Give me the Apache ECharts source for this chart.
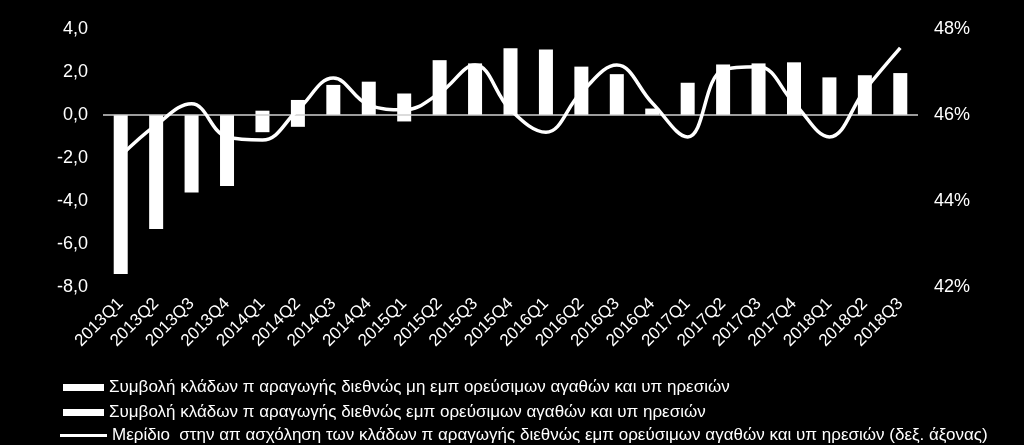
<!DOCTYPE html>
<html>
<head>
<meta charset="utf-8">
<script src="https://cdn.jsdelivr.net/npm/echarts@6/dist/echarts.min.js"></script>
<style>
  html, body { margin: 0; padding: 0; background: #000; }
  #chart { width: 1024px; height: 445px; }
</style>
</head>
<body>
<div id="chart"></div>
<script>
var quarters = ['2013Q1', '2013Q2', '2013Q3', '2013Q4', '2014Q1', '2014Q2', '2014Q3', '2014Q4',
  '2015Q1', '2015Q2', '2015Q3', '2015Q4', '2016Q1', '2016Q2', '2016Q3', '2016Q4',
  '2017Q1', '2017Q2', '2017Q3', '2017Q4', '2018Q1', '2018Q2', '2018Q3'];

// συμβολή μη εμπορεύσιμων (μικρά τμήματα αντίθετου προσήμου)
var nonTradable = [0, 0, 0, 0, 0.2, -0.55, 0, 0, -0.3, 0, 0, 0,
  0, 0, 0, 0, 0, 0, 0, 0, 0, 0, 0];
// συμβολή εμπορεύσιμων
var tradable = [-7.4, -5.3, -3.6, -3.3, -0.8, 0.7, 1.4, 1.55, 1.0, 2.55, 2.4, 3.1,
  3.05, 2.25, 1.9, 0.3, 1.5, 2.35, 2.4, 2.45, 1.75, 1.85, 1.95];
// μερίδιο απασχόλησης (%), δεξιός άξονας
var empShare = [45.05, 45.77, 46.26, 45.49, 45.42, 46.12, 46.86, 46.23, 46.12, 46.51, 47.16, 46.12,
  45.6, 46.53, 47.16, 46.28, 45.49, 47.05, 47.12, 46.28, 45.49, 46.58, 47.56];

var leftTicks = { min: -8, max: 4, interval: 2 };
var rightTicks = { min: 42, max: 48, interval: 2 };

var names = [
  'Συμβολή κλάδων π αραγωγής διεθνώς μη εμπ ορεύσιμων αγαθών και υπ ηρεσιών',
  'Συμβολή κλάδων π αραγωγής διεθνώς εμπ ορεύσιμων αγαθών και υπ ηρεσιών',
  'Μερίδιο  στην απ ασχόληση των κλάδων π αραγωγής διεθνώς εμπ ορεύσιμων αγαθών και υπ ηρεσιών (δεξ. άξονας)'
];

var font = 'Liberation Sans, Arial, sans-serif';
var chart = echarts.init(document.getElementById('chart'));

// ένα υπόμνημα ανά γραμμή
function legendRow(name, top, left, w, h) {
  return {
    left: left,
    top: top,
    itemWidth: w,
    itemHeight: h,
    itemGap: 5,
    icon: 'rect',
    textStyle: { color: '#fff', fontSize: 17, fontFamily: font },
    data: [name]
  };
}

var option = {
  backgroundColor: '#000',
  animation: false,
  textStyle: { fontFamily: font, color: '#fff' },
  grid: { left: 103, right: 106, top: 29, bottom: 158 },
  legend: [
    legendRow(names[0], 374, 58, 41, 7),
    legendRow(names[1], 399, 58, 41, 7),
    legendRow(names[2], 422, 55, 47, 3)
  ],
  xAxis: {
    type: 'category',
    data: quarters,
    axisLine: { show: false },
    axisTick: { show: false },
    axisLabel: {
      color: '#fff', fontSize: 17, fontFamily: font,
      rotate: 45, margin: 14, interval: 0
    }
  },
  yAxis: [
    {
      type: 'value',
      min: leftTicks.min, max: leftTicks.max, interval: leftTicks.interval,
      axisLine: { show: false },
      axisTick: { show: false },
      splitLine: { show: false },
      axisLabel: {
        color: '#fff', fontSize: 18, fontFamily: font, margin: 15,
        formatter: function (v) { return v.toFixed(1).replace('.', ','); }
      }
    },
    {
      type: 'value',
      min: rightTicks.min, max: rightTicks.max, interval: rightTicks.interval,
      axisLine: { show: false },
      axisTick: { show: false },
      splitLine: { show: false },
      axisLabel: {
        color: '#fff', fontSize: 18, fontFamily: font, margin: 16,
        formatter: '{value}%'
      }
    }
  ],
  series: [
    {
      name: names[0],
      type: 'bar',
      stack: 'contrib',
      barWidth: 14,
      itemStyle: { color: '#fff' },
      data: nonTradable,
      markLine: {
        silent: true,
        symbol: 'none',
        label: { show: false },
        lineStyle: { color: '#d0d0d0', width: 1.5, type: 'solid' },
        data: [{ yAxis: 0 }]
      }
    },
    {
      name: names[1],
      type: 'bar',
      stack: 'contrib',
      barWidth: 14,
      itemStyle: { color: '#fff' },
      data: tradable
    },
    {
      name: names[2],
      type: 'line',
      yAxisIndex: 1,
      smooth: 0.4,
      symbol: 'none',
      lineStyle: { color: '#fff', width: 3.5 },
      itemStyle: { color: '#fff' },
      z: 5,
      data: empShare
    }
  ]
};

chart.setOption(option);
</script>
</body>
</html>
